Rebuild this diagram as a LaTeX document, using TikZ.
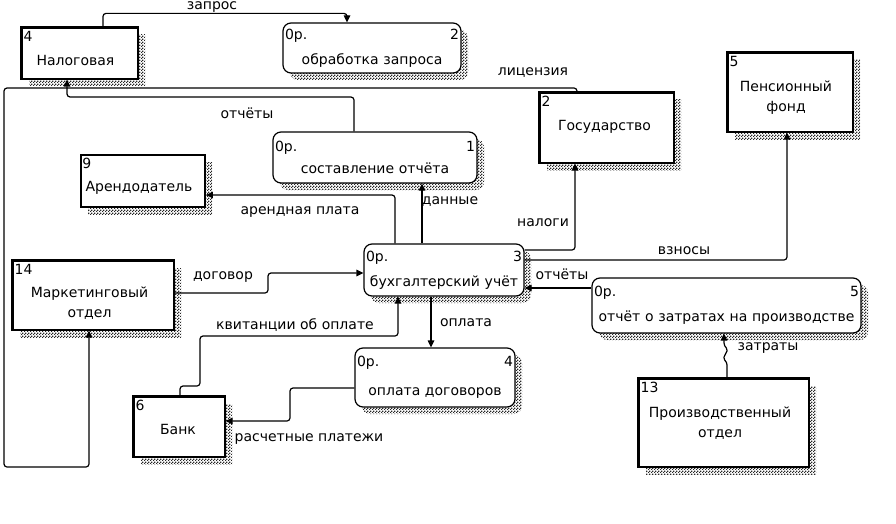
\documentclass[tikz,border=0pt]{standalone}
\usepackage{fontspec}
\setmainfont{DejaVu Sans}
\usetikzlibrary{arrows.meta, patterns, shadows}

% fine checkered hatching for the shadows
\pgfdeclarepatternformonly{checker}{\pgfqpoint{0pt}{0pt}}{\pgfqpoint{3pt}{3pt}}{\pgfqpoint{3pt}{3pt}}{
    \pgfpathrectangle{\pgfqpoint{0pt}{0pt}}{\pgfqpoint{1.5pt}{1.5pt}}
    \pgfpathrectangle{\pgfqpoint{1.5pt}{1.5pt}}{\pgfqpoint{1.5pt}{1.5pt}}
    \pgfusepath{fill}}

\begin{document}
\begin{tikzpicture}[
    x=1pt, y=-1pt,
    font=\fontsize{14}{20}\selectfont,
    hatch/.style={general shadow={shadow xshift=7pt, shadow yshift=-7pt, draw=none, pattern=checker, pattern color=black!85}},
    ent/.style={rectangle, draw, line width=1.2pt, fill=white, inner sep=2pt, hatch},
    proc/.style={rectangle, draw, rounded corners=8pt, line width=1.2pt, fill=white, align=center, inner sep=2pt, hatch},
    num/.style={anchor=north west, inner xsep=2pt, inner ysep=4pt},
    entname/.style={align=center},
    thickside/.style={line width=3pt},
    lbl/.style={text height=10pt, text depth=3pt, inner sep=0pt},
    flow/.style={-{Triangle[length=7pt, width=6.5pt]}, line width=1.2pt, rounded corners=3pt}
]
    \useasboundingbox (0,0) rectangle (896,524);

    % External entities
    \node[ent, minimum width=116pt, minimum height=51pt, label={[num]north west:4},
          label={[entname, xshift=-4.5pt, yshift=-6.5pt]center:Налоговая}] (nalog) at (80,53.5) {};
    \node[ent, minimum width=134pt, minimum height=70pt, label={[num]north west:2},
          label={[entname, xshift=-2.5pt, yshift=1pt]center:Государство}] (gos) at (607,128) {};
    \node[ent, minimum width=125pt, minimum height=79pt, label={[num]north west:5},
          label={[entname, xshift=-4.5pt, yshift=-5.5pt]center:Пенсионный\\фонд}] (pens) at (790.5,92.5) {};
    \node[ent, line width=1.8pt, minimum width=124pt, minimum height=52pt, label={[num]north west:9},
          label={[entname, xshift=-4pt, yshift=-7pt]center:Арендодатель}] (arend) at (143,181) {};
    \node[ent, minimum width=161pt, minimum height=69pt, label={[num]north west:14},
          label={[entname, xshift=-4pt, yshift=-7.5pt]center:Маркетинговый\\отдел}] (market) at (93.5,295.5) {};
    \node[ent, minimum width=91pt, minimum height=60pt, label={[num]north west:6},
          label={[entname, xshift=-1.5pt, yshift=-2pt]center:Банк}] (bank) at (179.5,427) {};
    \node[ent, minimum width=170pt, minimum height=88pt, label={[num]north west:13},
          label={[entname, xshift=-4pt]center:Производственный\\отдел}] (prod) at (724,423) {};

    % Bold sides of the entities
    \foreach \n in {nalog, gos, pens, market, bank, prod}
        \draw[thickside] (\n.south west) -- (\n.north west) -- (\n.north east);

    % Processes
    \node[proc, text width=174pt, minimum height=50pt] (obrab) at (372,48) {0р.\hfill 2\\[5pt]\mbox{обработка запроса}};
    \node[proc, text width=200pt, minimum height=51pt] (sost) at (375,157.5) {0р.\hfill 1\\[2pt]\mbox{составление отчёта}};
    \node[proc, text width=156pt, minimum height=52pt] (buh) at (444,270) {0р.\hfill 3\\[5pt]\mbox{бухгалтерский учёт}};
    \node[proc, text width=265pt, minimum height=55pt] (otchz) at (726.5,305.5) {0р.\hfill 5\\[5pt]\mbox{отчёт о затратах на производстве}};
    \node[proc, text width=156pt, minimum height=59pt] (oplata) at (435,377.5) {0р.\hfill 4\\[9pt]\mbox{оплата договоров}};

    % Flows
    \draw[flow] (nalog.north -| 103,0) -- ++(0,-14) -| (obrab.north -| 347,0);
    \draw[flow] (gos.north -| 577,0) |- (4,88) |- (89,467) -- (market.south -| 89,0);
    \draw[flow] (sost.north -| 354,0) |- (67,97) -- (nalog.south -| 67,0);
    \draw[flow] (buh.north -| 395,0) |- (arend.east |- 0,195);
    \draw[flow] (buh.north -| 422,0) -- (sost.south -| 422,0);
    \draw[flow] (buh.east |- 0,250) -| (gos.south -| 575,0);
    \draw[flow] (buh.east |- 0,260) -| (pens.south -| 787,0);
    \draw[flow] (otchz.west |- 0,288) -- (buh.east |- 0,288);
    \draw[flow] (market.east |- 0,293) -| (268,273) -- (buh.west |- 0,273);
    \draw[flow] (bank.north -| 180,0) |- (200,386) |- (398,336) -- (buh.south -| 398,0);
    \draw[flow] (buh.south -| 431,0) -- (oplata.north -| 431,0);
    \draw[flow] (oplata.west |- 0,388) -| (290,421) -- (bank.east |- 0,421);
    \draw[flow] (prod.north -| 727,0) -- (727,362) .. controls (721,357) and (730,351) .. (724,346) -- (otchz.south -| 724,0);

    % Labels
    \node[lbl] (lzapros) at (212,6) {запрос};
    \node[lbl] (llicenz) at (533,72) {лицензия};
    \node[lbl] (lotch) at (247,115) {отчёты};
    \node[lbl] (larend) at (300,211) {арендная плата};
    \node[lbl] (ldann) at (450,201) {данные};
    \node[lbl] (lnalog) at (543,223) {налоги};
    \node[lbl] (lvznos) at (684,251) {взносы};
    \node[lbl] (lotchz) at (562,276) {отчёты};
    \node[lbl] (ldogov) at (223,276) {договор};
    \node[lbl] (lkvit) at (295,326) {квитанции об оплате};
    \node[lbl] (loplata) at (466,323) {оплата};
    \node[lbl] (lrasch) at (309,438) {расчетные платежи};
    \node[lbl] (lzatr) at (768,347) {затраты};
\end{tikzpicture}
\end{document}
